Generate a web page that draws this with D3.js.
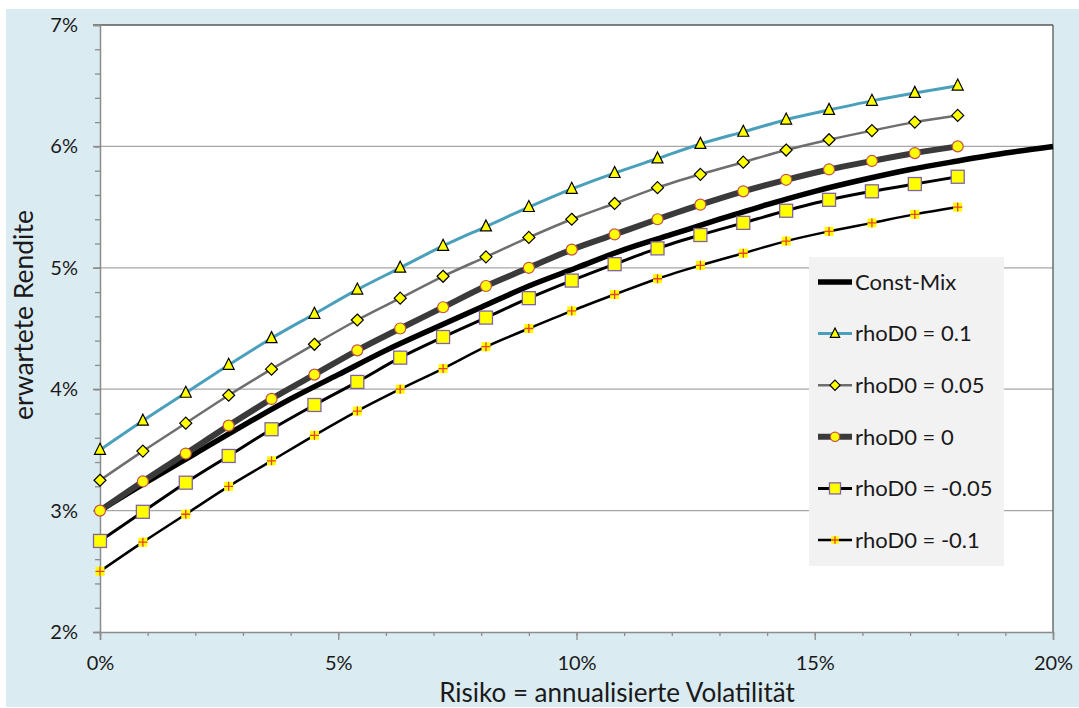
<!DOCTYPE html>
<html><head><meta charset="utf-8">
<script src="https://cdn.jsdelivr.net/npm/d3@7"></script>
<style>
html,body{margin:0;padding:0;background:#fff;}
svg{display:block;font-family:Lato,"Open Sans",sans-serif;}
</style></head>
<body>
<svg id="chart" width="1079" height="708"></svg>
<script>
// ---- data (x in %, y in %) ----
const volMarkers = [0,0.9,1.8,2.7,3.6,4.5,5.4,6.3,7.2,8.1,9.0,9.9,10.8,11.7,12.6,13.5,14.4,15.3,16.2,17.1,18.0];
const volConstMix = [0,1,2,3,4,5,6,7,8,9,10,11,12,13,14,15,16,17,18,19,20];
const constMix = [3.00,3.24,3.47,3.70,3.92,4.12,4.32,4.50,4.675,4.85,5.00,5.15,5.275,5.40,5.52,5.63,5.725,5.81,5.88,5.945,6.00];
const rho_p010 = [3.50,3.74,3.97,4.20,4.42,4.62,4.82,5.00,5.18,5.34,5.50,5.65,5.78,5.90,6.02,6.12,6.22,6.30,6.375,6.44,6.50];
const rho_p005 = [3.25,3.49,3.72,3.95,4.165,4.37,4.57,4.75,4.93,5.09,5.25,5.40,5.53,5.66,5.77,5.87,5.97,6.055,6.13,6.20,6.255];
const rho_0 = [3.00,3.24,3.47,3.70,3.92,4.12,4.32,4.50,4.675,4.85,5.00,5.15,5.275,5.40,5.52,5.63,5.725,5.81,5.88,5.945,6.00];
const rho_m005 = [2.75,2.99,3.23,3.45,3.67,3.87,4.06,4.26,4.43,4.59,4.75,4.895,5.03,5.16,5.27,5.37,5.47,5.56,5.63,5.69,5.75];
const rho_m010 = [2.50,2.74,2.97,3.20,3.41,3.62,3.82,4.00,4.17,4.35,4.50,4.645,4.78,4.91,5.02,5.12,5.22,5.30,5.37,5.44,5.50];
const seriesNames = ["Const-Mix","rhoD0 = 0.1","rhoD0 = 0.05","rhoD0 = 0","rhoD0 = -0.05","rhoD0 = -0.1"];
const xTickLabels = ["0%","5%","10%","15%","20%"];
const yTickLabels = ["2%","3%","4%","5%","6%","7%"];
const xTitle = "Risiko = annualisierte Volatilität";
const yTitle = "erwartete Rendite";

// ---- styles ----
const styles = [
  {name:seriesNames[0], xs:volConstMix, ys:constMix, color:"#000000", width:5.5, marker:null},
  {name:seriesNames[1], xs:volMarkers, ys:rho_p010, color:"#4aa0bb", width:3, marker:"triangle"},
  {name:seriesNames[2], xs:volMarkers, ys:rho_p005, color:"#6e6e6e", width:2.5, marker:"diamond"},
  {name:seriesNames[3], xs:volMarkers, ys:rho_0, color:"#3a3a3a", width:6, marker:"circle"},
  {name:seriesNames[4], xs:volMarkers, ys:rho_m005, color:"#000000", width:3, marker:"square"},
  {name:seriesNames[5], xs:volMarkers, ys:rho_m010, color:"#000000", width:2.5, marker:"plus"}
];

const svg = d3.select("#chart");
svg.append("rect").attr("x",6).attr("y",9).attr("width",1073).attr("height",698).attr("fill","#daebf2");

const L=100, R=1053, T=25, B=632;
const x = d3.scaleLinear().domain([0,20]).range([L,R]);
const y = d3.scaleLinear().domain([2,7]).range([B,T]);

svg.append("rect").attr("x",L).attr("y",T).attr("width",R-L).attr("height",B-T).attr("fill","#fff");

// gridlines
svg.append("g").selectAll("line").data([3,4,5,6]).join("line")
  .attr("x1",L-7).attr("x2",R).attr("y1",d=>y(d)).attr("y2",d=>y(d))
  .attr("stroke","#a6a6a6").attr("stroke-width",1.3);
// top & right border
svg.append("line").attr("x1",L-7).attr("x2",R).attr("y1",T).attr("y2",T).attr("stroke","#595959").attr("stroke-width",1.3);
svg.append("line").attr("x1",R).attr("x2",R).attr("y1",T).attr("y2",B).attr("stroke","#595959").attr("stroke-width",1.3);

// y axis
const yMinor = d3.range(0,26).map(i=>2+i*0.2);
const yAxisMinor = d3.axisLeft(y).tickValues(yMinor).tickSize(5).tickFormat("");
const gyMinor = svg.append("g").attr("transform",`translate(${L},0)`).call(yAxisMinor);
gyMinor.select(".domain").remove();
gyMinor.selectAll("line").attr("stroke","#8c8c8c").attr("stroke-width",1.3);
const yAxis = d3.axisLeft(y).tickValues([2,3,4,5,6,7]).tickSize(7).tickPadding(15)
  .tickFormat((d,i)=>yTickLabels[i]);
const gy = svg.append("g").attr("transform",`translate(${L},0)`).call(yAxis);
gy.select(".domain").attr("stroke","#8c8c8c").attr("stroke-width",1.5);
gy.selectAll("line").attr("stroke","#8c8c8c").attr("stroke-width",1.3);
gy.selectAll("text").attr("font-size",20).attr("fill","#1a1a1a").attr("font-family","Lato");

// x axis
const xMinor = d3.range(0,21);
const gxMinor = svg.append("g").attr("transform",`translate(0,${B})`).call(d3.axisBottom(x).tickValues(xMinor).tickSize(4).tickFormat(""));
gxMinor.select(".domain").remove();
gxMinor.selectAll("line").attr("stroke","#8c8c8c").attr("stroke-width",1.3);
const gx = svg.append("g").attr("transform",`translate(0,${B})`)
  .call(d3.axisBottom(x).tickValues([0,5,10,15,20]).tickSize(8).tickPadding(16).tickFormat((d,i)=>xTickLabels[i]));
gx.select(".domain").attr("stroke","#8c8c8c").attr("stroke-width",1.5);
gx.selectAll("line").attr("stroke","#8c8c8c").attr("stroke-width",1.3);
gx.selectAll("text").attr("font-size",20).attr("fill","#1a1a1a").attr("font-family","Lato");

// titles
svg.append("text").attr("x",617).attr("y",702).attr("text-anchor","middle")
  .attr("font-size",26).attr("fill","#1a1a1a").text(xTitle);
svg.append("text").attr("transform","translate(33,315) rotate(-90)").attr("text-anchor","middle")
  .attr("font-size",26.5).attr("fill","#1a1a1a").text(yTitle);

// lines
const line = d3.line().x(d=>x(d[0])).y(d=>y(d[1])).curve(d3.curveMonotoneX);
const plot = svg.append("g");
styles.forEach(s=>{
  const pts = s.xs.map((v,i)=>[v,s.ys[i]]);
  plot.append("path").datum(pts).attr("d",line).attr("fill","none")
    .attr("stroke",s.color).attr("stroke-width",s.width).attr("stroke-linejoin","round");
});

function drawMarker(g, type, cx, cy, scale){
  scale = scale||1;
  if(type==="triangle"){
    const h=11*scale, w=11*scale;
    g.append("path").attr("d",`M${cx},${cy-h*0.6}L${cx+w/2},${cy+h*0.4}L${cx-w/2},${cy+h*0.4}Z`)
      .attr("fill","#ffff00").attr("stroke","#000").attr("stroke-width",1.2);
  } else if(type==="diamond"){
    const r=6*scale;
    g.append("path").attr("d",`M${cx},${cy-r}L${cx+r},${cy}L${cx},${cy+r}L${cx-r},${cy}Z`)
      .attr("fill","#ffff00").attr("stroke","#000").attr("stroke-width",1.2);
  } else if(type==="circle"){
    g.append("circle").attr("cx",cx).attr("cy",cy).attr("r",5.5*scale)
      .attr("fill","#ffff00").attr("stroke","#c0504d").attr("stroke-width",1.2);
  } else if(type==="square"){
    const r=6.5*scale;
    g.append("rect").attr("x",cx-r).attr("y",cy-r).attr("width",2*r).attr("height",2*r)
      .attr("fill","#ffff00").attr("stroke","#8064a2").attr("stroke-width",1.3);
  } else if(type==="plus"){
    const r=4.5*scale;
    g.append("rect").attr("x",cx-r).attr("y",cy-r).attr("width",2*r).attr("height",2*r).attr("fill","#ffff00");
    g.append("path").attr("d",`M${cx-r},${cy}H${cx+r}M${cx},${cy-r}V${cy+r}`)
      .attr("stroke","#e8412c").attr("stroke-width",1.3);
  }
}
styles.forEach(s=>{
  if(!s.marker) return;
  const g = plot.append("g");
  s.xs.forEach((v,i)=>drawMarker(g, s.marker, x(v), y(s.ys[i])));
});

// legend
const lg = svg.append("g");
lg.append("rect").attr("x",809).attr("y",257).attr("width",195).attr("height",309).attr("fill","#f2f2f2");
const legY = d3.scaleLinear().domain([0,5]).range([282,540]);
styles.forEach((s,i)=>{
  const cy = legY(i);
  lg.append("line").attr("x1",818).attr("x2",852).attr("y1",cy).attr("y2",cy)
    .attr("stroke",s.color).attr("stroke-width",s.width);
  if(s.marker) drawMarker(lg, s.marker, 835, cy, 0.85);
  lg.append("text").attr("x",855).attr("y",cy).attr("dy","0.35em")
    .attr("font-size",22).attr("fill","#1a1a1a").text(s.name);
});
</script>
</body></html>
